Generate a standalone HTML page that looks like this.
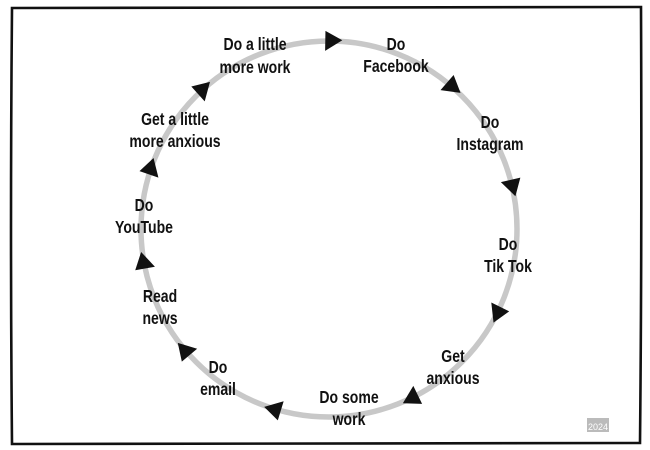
<!DOCTYPE html>
<html><head><style>
html,body{margin:0;padding:0;background:#fff;}
svg{display:block;}
text{font-family:"Liberation Sans",sans-serif;font-weight:bold;font-size:18px;fill:#111;text-anchor:middle;}
</style></head><body>
<svg width="650" height="450" viewBox="0 0 650 450" xmlns="http://www.w3.org/2000/svg">
<rect x="0" y="0" width="650" height="450" fill="#fff"/>
<path d="M12,8 L641,7 Q642,240 640,443 L12,444 Q10,230 12,8 Z" fill="none" stroke="#111" stroke-width="2.6"/>
<circle cx="329" cy="229" r="188" fill="none" stroke="#c8c8c8" stroke-width="5.5"/>
<g fill="#111">
<g transform="rotate(-89 329 229) translate(517 229)"><polygon points="-10,-7 10,-7 1,10"/></g>
<g transform="rotate(-49 329 229) translate(517 229)"><polygon points="-10,-7 10,-7 1,10"/></g>
<g transform="rotate(-13 329 229) translate(517 229)"><polygon points="-10,-7 10,-7 1,10"/></g>
<g transform="rotate(26.6 329 229) translate(517 229)"><polygon points="-10,-7 10,-7 1,10"/></g>
<g transform="rotate(64 329 229) translate(517 229)"><polygon points="-10,-7 10,-7 1,10"/></g>
<g transform="rotate(107 329 229) translate(517 229)"><polygon points="-10,-7 10,-7 1,10"/></g>
<g transform="rotate(140 329 229) translate(517 229)"><polygon points="-10,-7 10,-7 1,10"/></g>
<g transform="rotate(170 329 229) translate(517 229)"><polygon points="-10,-7 10,-7 1,10"/></g>
<g transform="rotate(199 329 229) translate(517 229)"><polygon points="-10,-7 10,-7 1,10"/></g>
<g transform="rotate(228 329 229) translate(517 229)"><polygon points="-10,-7 10,-7 1,10"/></g>
</g>
<g transform="translate(255 0) scale(0.78 1)"><text x="0" y="50">Do a little</text><text x="0" y="73">more work</text></g>
<g transform="translate(396 0) scale(0.78 1)"><text x="0" y="50">Do</text><text x="0" y="72">Facebook</text></g>
<g transform="translate(490 0) scale(0.78 1)"><text x="0" y="128">Do</text><text x="0" y="150">Instagram</text></g>
<g transform="translate(508 0) scale(0.78 1)"><text x="0" y="250">Do</text><text x="0" y="272">Tik Tok</text></g>
<g transform="translate(453 0) scale(0.78 1)"><text x="0" y="362">Get</text><text x="0" y="384">anxious</text></g>
<g transform="translate(349 0) scale(0.78 1)"><text x="0" y="403">Do some</text><text x="0" y="425">work</text></g>
<g transform="translate(218 0) scale(0.78 1)"><text x="0" y="373">Do</text><text x="0" y="395">email</text></g>
<g transform="translate(160 0) scale(0.78 1)"><text x="0" y="302">Read</text><text x="0" y="324">news</text></g>
<g transform="translate(144 0) scale(0.78 1)"><text x="0" y="211">Do</text><text x="0" y="233">YouTube</text></g>
<g transform="translate(175 0) scale(0.78 1)"><text x="0" y="125">Get a little</text><text x="0" y="147">more anxious</text></g>
<rect x="587" y="418" width="22" height="14" fill="#bbb"/>
<text x="598" y="430" style="font-size:9px;fill:#fff;font-weight:normal">2024</text>
</svg>
</body></html>
